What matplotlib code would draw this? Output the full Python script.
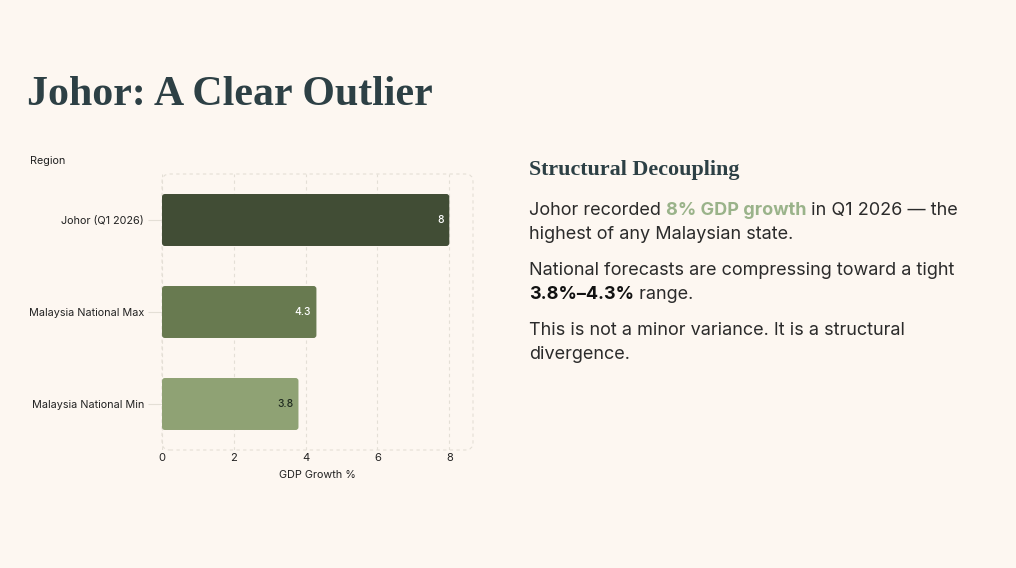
import matplotlib
matplotlib.use("Agg")
import matplotlib.pyplot as plt
from matplotlib.patches import FancyBboxPatch

regions = ["Johor (Q1 2026)", "Malaysia National Max", "Malaysia National Min"]
growth = [8, 4.3, 3.8]
value_labels = ["8", "4.3", "3.8"]
bar_colors = ["#414d35", "#687a50", "#8fa274"]
label_colors = ["#ffffff", "#ffffff", "#1f2a1f"]
x_ticks = [0, 2, 4, 6, 8]

BG = "#fdf7f1"
DARK = "#2d4045"
GRIDC = "#e4dfd6"

fig = plt.figure(figsize=(10.16, 5.68), dpi=100, facecolor=BG)

# Title
fig.text(27/1016, 1-105/568, "Johor: A Clear Outlier", family="Liberation Serif",
         weight="bold", fontsize=30.2, color=DARK, va="baseline", ha="left")

ax = fig.add_axes([162/1016, 1-450/568, 311/1016, 276/568])
ax.set_facecolor(BG)
ys = list(range(len(regions)))
bars = ax.barh(ys, growth, height=0.565, color=bar_colors)
for rect, c in zip(bars, bar_colors):
    x, y, w, h = rect.get_x(), rect.get_y(), rect.get_width(), rect.get_height()
    rect.set_visible(False)
    ax.add_patch(FancyBboxPatch((x, y), w, h,
                                boxstyle="round,pad=0,rounding_size=0.08",
                                mutation_aspect=0.39, facecolor=c, edgecolor="none", zorder=3))
for y, v, lab, lc in zip(ys, growth, value_labels, label_colors):
    ax.text(v - 0.15, y, lab, ha="right", va="center", fontsize=7.4,
            family="Inter", weight="medium", color=lc, zorder=4)

ax.set_xlim(0, 8.66)
ax.set_ylim(2.5, -0.5)
ax.set_xticks(x_ticks)
ax.set_xticklabels([str(t) for t in x_ticks], family="Inter", fontsize=8, color="#222222")
ax.set_yticks(ys)
ax.set_yticklabels(regions, family="Inter", fontsize=7.8, color="#222222")
ax.tick_params(axis="x", length=0, pad=2)
ax.tick_params(axis="y", length=10, pad=3, color=GRIDC, width=0.8)
for t in ax.yaxis.get_ticklines():
    t.set_linestyle((0, (2, 2)))
for s in ax.spines.values():
    s.set_visible(False)
ax.grid(axis="x", color=GRIDC, linestyle=(0, (3, 3)), linewidth=0.8, zorder=0)
ax.set_axisbelow(True)
border = FancyBboxPatch((0, 0), 1, 1, boxstyle="round,pad=0,rounding_size=0.025",
                        mutation_aspect=311/276, transform=ax.transAxes,
                        facecolor="none", edgecolor=GRIDC, linestyle=(0, (3, 3)),
                        linewidth=0.8, zorder=1, clip_on=False)
ax.add_patch(border)
ax.set_xlabel("GDP Growth %", family="Inter", fontsize=7.8, color="#222222", labelpad=5.5)
fig.text(30/1016, 1-161/568, "Region", family="Inter", fontsize=7.8, color="#222222",
         va="center", ha="left")

# Right panel
fig.text(529/1016, 1-175/568, "Structural Decoupling", family="Liberation Serif",
         weight="bold", fontsize=15.8, color=DARK, va="baseline", ha="left")

renderer = fig.canvas.get_renderer()
body_fs = 13.0
def rich_line(x_px, y_px, parts):
    x = x_px
    for txt, col, wt in parts:
        t = fig.text(x/1016, 1-y_px/568, txt, family="Inter", fontsize=body_fs,
                     color=col, weight=wt, va="baseline", ha="left")
        bb = t.get_window_extent(renderer=renderer)
        x += bb.width

BODY = "#2b2b2b"
GREEN = "#9ab38a"
lines = [
    (215, [("Johor recorded ", BODY, "normal"), ("8% GDP growth", GREEN, "bold"),
           (" in Q1 2026 \u2014 the", BODY, "normal")]),
    (239, [("highest of any Malaysian state.", BODY, "normal")]),
    (275, [("National forecasts are compressing toward a tight", BODY, "normal")]),
    (299, [("3.8%\u20134.3%", "#111111", "bold"), (" range.", BODY, "normal")]),
    (335, [("This is not a minor variance. It is a structural", BODY, "normal")]),
    (359, [("divergence.", BODY, "normal")]),
]
for y, parts in lines:
    rich_line(529, y, parts)

fig.savefig("out.png", dpi=100, facecolor=BG)
